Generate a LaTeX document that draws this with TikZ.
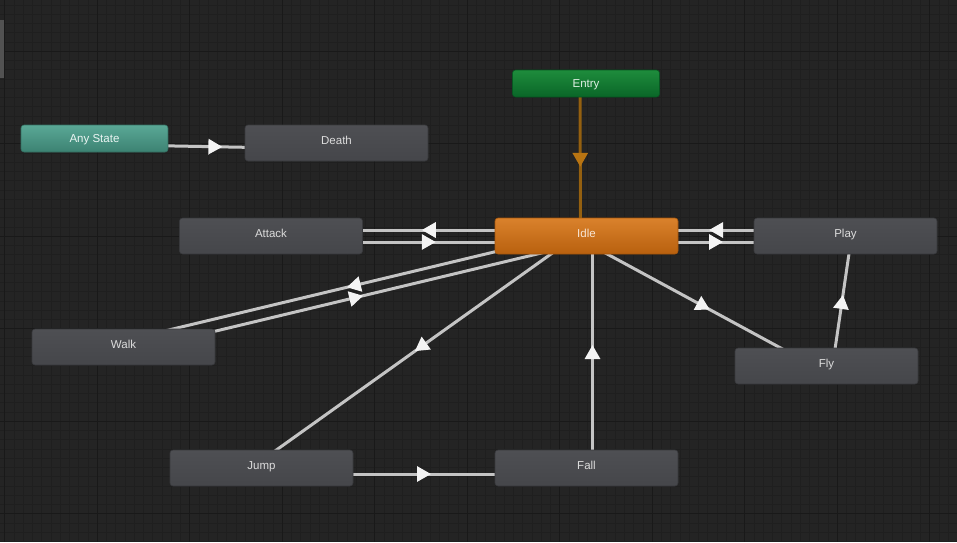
\documentclass[tikz,border=0pt]{standalone}
\usepackage{fontspec}
\setmainfont{Liberation Sans}
\usetikzlibrary{arrows.meta,decorations.markings,backgrounds,calc}

\definecolor{gridbg}{HTML}{242424}
\definecolor{gridminor}{HTML}{1F1F1F}
\definecolor{gridmajor}{HTML}{191919}
\definecolor{statetop}{HTML}{4E4F53}
\definecolor{statebot}{HTML}{45464A}
\definecolor{stateedge}{HTML}{38393C}
\definecolor{statetext}{HTML}{DCDCDC}
\definecolor{transline}{HTML}{C4C4C4}
\definecolor{arrowwhite}{HTML}{F4F4F4}
\definecolor{entryline}{HTML}{946010}
\definecolor{entryarrow}{HTML}{B87412}
\definecolor{anytop}{RGB}{90,168,150}
\definecolor{anybot}{RGB}{60,130,114}
\definecolor{entrytop}{RGB}{30,140,60}
\definecolor{entrybot}{RGB}{10,102,40}
\definecolor{idletop}{RGB}{218,130,44}
\definecolor{idlebot}{RGB}{184,96,14}

\tikzset{
  state/.style={draw=stateedge, line width=0.6pt, rounded corners=3pt,
    top color=statetop, bottom color=statebot, text=statetext,
    minimum width=183pt, minimum height=36pt, inner sep=0pt,
    text height=8pt, text depth=6pt, font=\fontsize{11.5}{13}\selectfont},
  smallstate/.style={state, minimum width=147pt, minimum height=27pt, text depth=0pt},
  trans/.style={draw=transline, line width=3pt, postaction={decorate},
    decoration={markings, mark=at position 0.5 with
      {\arrow[xshift=7pt]{Triangle[length=14pt,width=15pt,color=arrowwhite]}}}},
  entrytrans/.style={draw=entryline, line width=3pt, postaction={decorate},
    decoration={markings, mark=at position 0.5 with
      {\arrow[xshift=7pt]{Triangle[length=14pt,width=15pt,color=entryarrow]}}}}
}

% transition between two state centres, offset to its right side
\newcommand\transition[3][trans]{%
  \draw[#1] ($(#2.center)!6pt!-90:(#3.center)$) -- ($(#3.center)!6pt!90:(#2.center)$);}

\begin{document}
\begin{tikzpicture}[x=1pt, y=-1pt]
  \useasboundingbox (0,0) rectangle (957,542);

  % states
  \node[smallstate, top color=anytop, bottom color=anybot, draw=anybot!85!black, text=white!88!anytop] (anystate) at (94.5,138.5) {Any State};
  \node[state] (death) at (336.5,143) {Death};
  \node[smallstate, top color=entrytop, bottom color=entrybot, draw=entrybot!85!black, text=white!85!entrytop] (entry) at (586,83.5) {Entry};
  \node[state] (attack) at (271,236) {Attack};
  \node[state, top color=idletop, bottom color=idlebot, draw=idlebot!90!black, text=white!80!idletop] (idle) at (586.5,236) {Idle};
  \node[state] (play) at (845.5,236) {Play};
  \node[state] (walk) at (123.5,347) {Walk};
  \node[state] (fly) at (826.5,366) {Fly};
  \node[state] (jump) at (261.5,468) {Jump};
  \node[state] (fall) at (586.5,468) {Fall};

  \begin{scope}[on background layer]
    % editor background and grid
    \fill[gridbg] (0,0) rectangle (957,542);
    \foreach \i in {0,...,104}
      \draw[gridminor, line width=0.5pt] ({4.5+9.25*(\i-1)},0) -- ++(0,542);
    \foreach \i in {-5,...,54}
      \draw[gridminor, line width=0.5pt] (0,{51+9.25*\i}) -- ++(957,0);
    \foreach \i in {0,...,10}
      \draw[gridmajor, line width=1pt] ({4.5+92.5*\i},0) -- ++(0,542);
    \foreach \i in {-1,...,5}
      \draw[gridmajor, line width=1pt] (0,{51+92.5*\i}) -- ++(957,0);
    \fill[black!68] (0,20) rectangle (4,78);

    % transitions
    \transition{anystate}{death}
    \transition[entrytrans]{entry}{idle}
    \transition{idle}{attack}
    \transition{attack}{idle}
    \transition{play}{idle}
    \transition{idle}{play}
    \transition{idle}{walk}
    \transition{walk}{idle}
    \transition{idle}{jump}
    \transition{fall}{idle}
    \transition{idle}{fly}
    \transition{fly}{play}
    \transition{jump}{fall}
  \end{scope}
\end{tikzpicture}
\end{document}
